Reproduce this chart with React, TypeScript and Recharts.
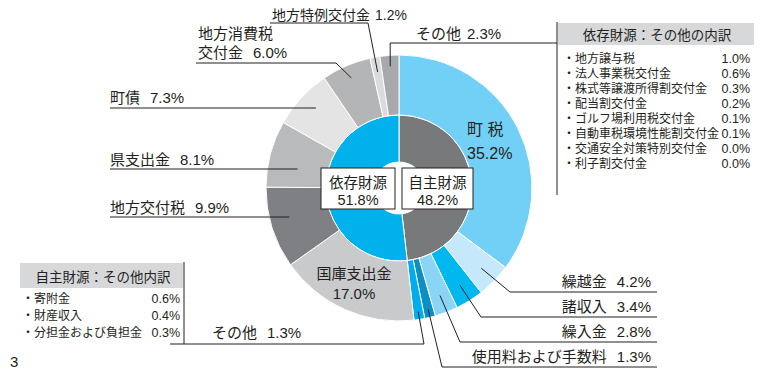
import { PieChart, Pie, Cell } from 'recharts';

// 外側：内訳（12時から時計回り）
const outerNames = [
  '町税',
  '繰越金',
  '諸収入',
  '繰入金',
  '使用料および手数料',
  'その他',
  '国庫支出金',
  '地方交付税',
  '県支出金',
  '町債',
  '地方消費税交付金',
  '地方特例交付金',
  'その他',
];
const outerValues = [35.2, 4.2, 3.4, 2.8, 1.3, 1.3, 17.0, 9.9, 8.1, 7.3, 6.0, 1.2, 2.3];
const outerColors = [
  '#72cff5',
  '#c5e9fa',
  '#00b8f0',
  '#8ad5f5',
  '#0b8fc5',
  '#00aeef',
  '#c9cacb',
  '#7f8083',
  '#b9babc',
  '#e4e4e5',
  '#b4b5b7',
  '#dadbdc',
  '#a8a9ab',
];

// 内側：自主財源 / 依存財源
const innerNames = ['自主財源', '依存財源'];
const innerValues = [48.2, 51.8];
const innerColors = ['#78797b', '#00b1ec'];

// その他の内訳
const jishuOtherNames = ['寄附金', '財産収入', '分担金および負担金'];
const jishuOtherValues = [0.6, 0.4, 0.3];
const izonOtherNames = [
  '地方譲与税',
  '法人事業税交付金',
  '株式等譲渡所得割交付金',
  '配当割交付金',
  'ゴルフ場利用税交付金',
  '自動車税環境性能割交付金',
  '交通安全対策特別交付金',
  '利子割交付金',
];
const izonOtherValues = [1.0, 0.6, 0.3, 0.2, 0.1, 0.1, 0.0, 0.0];

const outerData = outerNames.map((name, i) => ({ id: i, name, value: outerValues[i] }));
const innerData = innerNames.map((name, i) => ({ id: i, name, value: innerValues[i] }));

// 数字は Liberation Sans、和文は Noto Sans CJK JP にフォールバック
const FONT = "'Liberation Sans', 'Noto Sans CJK JP', sans-serif";
const INK = '#231f20';
const RAD = Math.PI / 180;
const pct = (v: number) => `${v.toFixed(1)}%`;

type Pt = [number, number];
interface LabelLayout {
  r?: number;
  path?: (a: Pt) => Pt[];
  texts: { x: number; y: number; anchor?: 'start' | 'middle' | 'end'; name?: string; withValue?: boolean; gap?: number }[];
  size?: number;
}

// ラベル位置（引き出し線の起点はスライスの中央角から計算）
const outerLayout: LabelLayout[] = [
  { size: 16, texts: [{ x: 467, y: 135, name: '町 税' }, { x: 467, y: 159, withValue: true }] },
  { r: 115, path: (a) => [a, [510, 292], [657, 292]], texts: [{ x: 651, y: 287, anchor: 'end', withValue: true, gap: 10 }] },
  { r: 115, path: (a) => [a, [481, 317], [657, 317]], texts: [{ x: 651, y: 312, anchor: 'end', withValue: true, gap: 10 }] },
  { r: 115, path: (a) => [a, [460, 342], [657, 342]], texts: [{ x: 651, y: 337, anchor: 'end', withValue: true, gap: 10 }] },
  { r: 125, path: (a) => [a, [442, 367], [657, 367]], texts: [{ x: 651, y: 362, anchor: 'end', withValue: true, gap: 10 }] },
  { r: 125, path: (a) => [a, [424, 344], [170, 344]], texts: [{ x: 212, y: 338, withValue: true, gap: 10 }] },
  { texts: [{ x: 354, y: 279, anchor: 'middle', name: '国庫支出金' }, { x: 354, y: 299, anchor: 'middle', withValue: true }] },
  { r: 115, path: (a) => [[a[0], 217], [110, 217]], texts: [{ x: 110, y: 213, withValue: true, gap: 10 }] },
  { r: 105, path: (a) => [[a[0], 169], [110, 169]], texts: [{ x: 110, y: 165, withValue: true, gap: 10 }] },
  { r: 113, path: (a) => [[a[0], 108], [110, 108]], texts: [{ x: 110, y: 103, withValue: true, gap: 10 }] },
  {
    r: 120,
    path: (a) => [a, [336, 63], [196, 63]],
    texts: [{ x: 198, y: 39, name: '地方消費税' }, { x: 198, y: 58, name: '交付金', withValue: true, gap: 10 }],
  },
  { r: 118, size: 14, path: (a) => [a, [368, 23], [270, 23]], texts: [{ x: 272, y: 20, withValue: true, gap: 5 }] },
  { r: 122, path: (a) => [a, [a[0], 43], [557, 43]], texts: [{ x: 416, y: 39, withValue: true, gap: 6 }] },
];

const renderOuterLabel = (props: any) => {
  const { cx, cy, midAngle, value } = props;
  const index = props.index ?? props.payload?.id ?? props.id;
  const cfg = outerLayout[index];
  if (!cfg) return null;
  const name = outerNames[index];
  const size = cfg.size ?? 15;
  let line = null;
  if (cfg.path && cfg.r) {
    const a: Pt = [cx + cfg.r * Math.cos(-midAngle * RAD), cy + cfg.r * Math.sin(-midAngle * RAD)];
    const pts = cfg.path(a);
    line = <polyline points={pts.map((p) => p.join(',')).join(' ')} fill="none" stroke={INK} strokeWidth={1} />;
  }
  return (
    <g key={`ol-${index}`}>
      {line}
      {cfg.texts.map((t, i) => {
        const label = t.name ?? (t.withValue ? name : '');
        const onlyValue = t.withValue && t.name === undefined && !cfg.path && cfg.texts.length > 1;
        return (
          <text
            key={i}
            x={t.x}
            y={t.y}
            textAnchor={t.anchor ?? 'start'}
            fontFamily={FONT}
            fontSize={size}
            fill={INK}
          >
            {onlyValue ? (
              <tspan>{pct(value)}</tspan>
            ) : (
              <>
                <tspan>{label}</tspan>
                {t.withValue && <tspan dx={t.gap ?? 8}>{pct(value)}</tspan>}
              </>
            )}
          </text>
        );
      })}
    </g>
  );
};

const renderInnerLabel = (props: any) => {
  const { cx, cy, value } = props;
  const index = props.index ?? props.payload?.id ?? props.id;
  // 自主財源は右、依存財源は左の囲み
  const bx = index === 0 ? cx + 3 : cx - 78;
  const bw = index === 0 ? 71 : 74;
  const mx = bx + bw / 2;
  return (
    <g key={`il-${index}`}>
      <rect x={bx} y={cy - 20} width={bw} height={41} fill="#fff" stroke={INK} strokeWidth={1} />
      <text x={mx} y={cy} textAnchor="middle" fontFamily={FONT} fontSize={14.5} fill={INK}>
        {innerNames[index]}
      </text>
      <text x={mx} y={cy + 17} textAnchor="middle" fontFamily={FONT} fontSize={14.5} fill={INK}>
        {pct(value)}
      </text>
    </g>
  );
};

function SideBoxes() {
  return (
    <svg width={762} height={380} style={{ position: 'absolute', left: 0, top: 0, pointerEvents: 'none' }}>
      {/* 依存財源：その他の内訳 */}
      <line x1={557} y1={22} x2={557} y2={195} stroke={INK} strokeWidth={1} />
      <rect x={558} y={23} width={196} height={22} fill="#d7d8d9" />
      <text x={657} y={40} textAnchor="middle" fontFamily={FONT} fontSize={13.5} fill={INK}>
        依存財源：その他の内訳
      </text>
      {izonOtherNames.map((n, i) => (
        <g key={n}>
          <text x={563} y={63 + i * 15} fontFamily={FONT} fontSize={12} fill={INK}>
            ・{n}
          </text>
          <text x={750} y={63 + i * 15} textAnchor="end" fontFamily={FONT} fontSize={12.5} fill={INK}>
            {pct(izonOtherValues[i])}
          </text>
        </g>
      ))}

      {/* 自主財源：その他内訳 */}
      <line x1={184} y1={262} x2={184} y2={344} stroke={INK} strokeWidth={1} />
      <rect x={20} y={263} width={163} height={25} fill="#d7d8d9" />
      <text x={103} y={282} textAnchor="middle" fontFamily={FONT} fontSize={13.5} fill={INK}>
        自主財源：その他内訳
      </text>
      {jishuOtherNames.map((n, i) => (
        <g key={n}>
          <text x={22} y={303 + i * 17} fontFamily={FONT} fontSize={12} fill={INK}>
            ・{n}
          </text>
          <text x={180} y={303 + i * 17} textAnchor="end" fontFamily={FONT} fontSize={12.5} fill={INK}>
            {pct(jishuOtherValues[i])}
          </text>
        </g>
      ))}

      <text x={10} y={367} fontFamily={FONT} fontSize={15} fill={INK}>
        3
      </text>
    </svg>
  );
}

export default function App() {
  return (
    <div style={{ position: 'absolute', left: 0, top: 0, width: 762, height: 380, background: '#fff' }}>
      <PieChart width={762} height={380} margin={{ top: 0, right: 0, bottom: 0, left: 0 }}>
        <Pie
          data={innerData}
          dataKey="value"
          cx={399}
          cy={188}
          innerRadius={26}
          outerRadius={73}
          startAngle={90}
          endAngle={-270}
          stroke="#fff"
          strokeWidth={1}
          label={renderInnerLabel}
          labelLine={false}
          isAnimationActive={false}
        >
          {innerData.map((d, i) => (
            <Cell key={d.id} fill={innerColors[i]} />
          ))}
        </Pie>
        <Pie
          data={outerData}
          dataKey="value"
          cx={399}
          cy={188}
          innerRadius={73}
          outerRadius={133}
          startAngle={90}
          endAngle={-270}
          stroke="#fff"
          strokeWidth={1}
          label={renderOuterLabel}
          labelLine={false}
          isAnimationActive={false}
        >
          {outerData.map((d, i) => (
            <Cell key={d.id} fill={outerColors[i]} />
          ))}
        </Pie>
      </PieChart>
      <SideBoxes />
    </div>
  );
}
